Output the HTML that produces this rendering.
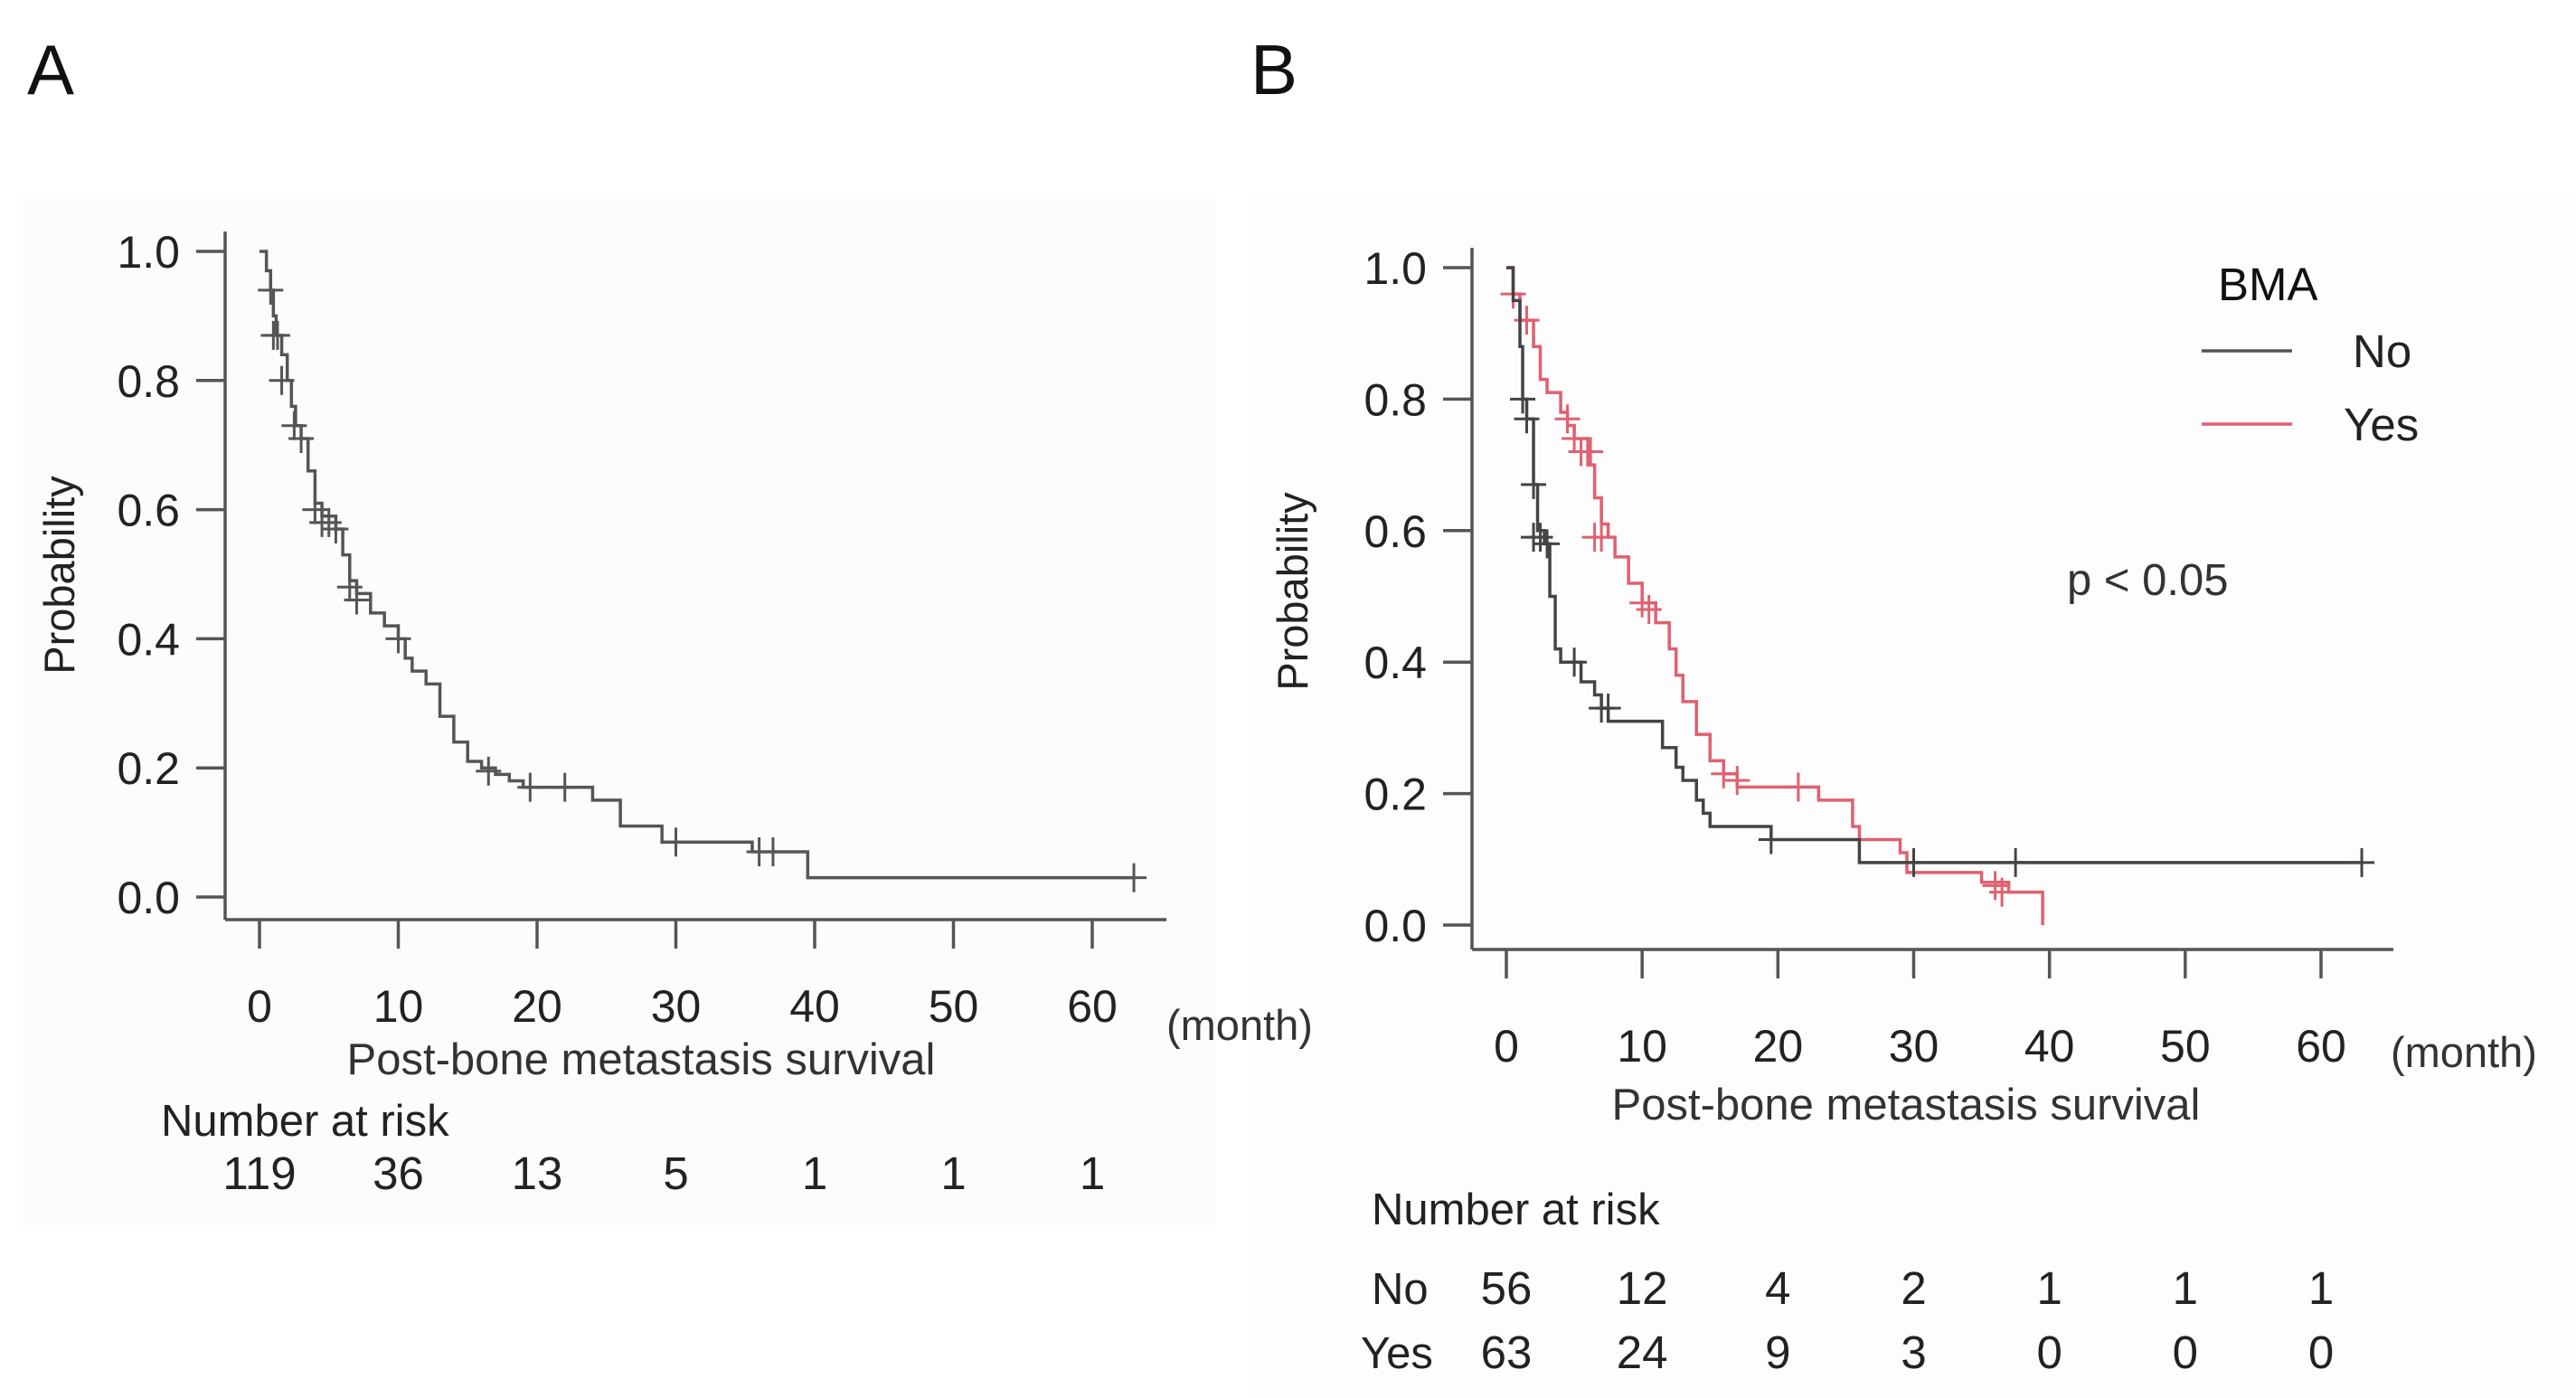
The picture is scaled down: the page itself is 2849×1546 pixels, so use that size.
<!DOCTYPE html>
<html><head><meta charset="utf-8"><style>
html,body{margin:0;padding:0;background:#fff;}
svg{display:block;font-family:"Liberation Sans",Arial,sans-serif;}
</style></head><body>
<svg id="s" width="2849" height="1546" viewBox="0 0 2849 1546" xmlns="http://www.w3.org/2000/svg">
<rect x="25" y="215" width="1320" height="1145" fill="#fcfcfc"/>
<rect x="1380" y="215" width="1469" height="1331" fill="#fdfdfd"/>
<text x="30" y="104" font-size="78" fill="#111">A</text>
<text x="1383" y="104" font-size="78" fill="#111">B</text>
<g id="A"></g>
<g id="B"></g>
</svg>
<script>
const xTicks=[0,10,20,30,40,50,60];
const yTicks=[0,0.2,0.4,0.6,0.8,1.0];
const allT=[0,0.5,0.8,1,1.2,1.6,2,2.3,2.6,3,3.5,4,4.5,5.5,6,6.5,7,8,9,10,10.5,11,12,13,14,15,16,17,18,19,24,26,29,35.5,39.5,63];
const allS=[1,0.97,0.94,0.9,0.87,0.84,0.8,0.76,0.73,0.71,0.66,0.61,0.59,0.57,0.53,0.49,0.47,0.44,0.42,0.40,0.37,0.35,0.33,0.28,0.24,0.21,0.20,0.19,0.18,0.17,0.15,0.11,0.085,0.07,0.03,0.03];
const allCensT=[0.8,1,1.3,1.6,2.5,3,4,4.5,5,5.5,6.5,7,10,16.5,19.5,22,30,36,37,63];
const allCensS=[0.94,0.87,0.87,0.80,0.73,0.71,0.60,0.58,0.58,0.57,0.48,0.46,0.40,0.195,0.17,0.17,0.085,0.07,0.07,0.03];
const allRisk=[119,36,13,5,1,1,1];
const noT=[0,0.5,1,1.2,1.5,2,2.3,2.8,3.2,3.6,4,5.5,6.5,7,7.5,11.5,12.5,13,14,14.5,15,19.5,26,63];
const noS=[1,0.95,0.88,0.80,0.77,0.67,0.6,0.58,0.5,0.42,0.40,0.37,0.35,0.33,0.31,0.27,0.24,0.22,0.19,0.17,0.15,0.13,0.095,0.095];
const noCensT=[1.2,1.5,2,2,2.5,3,5,7,7.5,19.5,30,37.5,63];
const noCensS=[0.80,0.77,0.67,0.59,0.59,0.58,0.40,0.33,0.33,0.13,0.095,0.095,0.095];
const yesT=[0,0.5,1,2,2.5,3,4,4.5,5,6,6.5,7,7.5,8,9,10,11,12,12.5,13,14,15,16,17,23,25.5,26,29,29.5,35,37,39.5];
const yesS=[1,0.96,0.92,0.88,0.83,0.81,0.78,0.76,0.74,0.70,0.65,0.61,0.59,0.56,0.52,0.49,0.46,0.42,0.38,0.34,0.29,0.25,0.23,0.21,0.19,0.15,0.13,0.11,0.08,0.065,0.05,0.0];
const yesCensT=[0.5,1.5,4.5,5,5.5,6.2,6.5,7,10,10.5,16,17,21.5,36,36.5];
const yesCensS=[0.96,0.92,0.77,0.74,0.72,0.72,0.59,0.59,0.49,0.48,0.23,0.22,0.21,0.06,0.05];
const noRisk=[56,12,4,2,1,1,1];
const yesRisk=[63,24,9,3,0,0,0];

const NS="http://www.w3.org/2000/svg";
function mk(p,tag,attrs,txt){const e=document.createElementNS(NS,tag);for(const k in attrs)e.setAttribute(k,attrs[k]);if(txt!==undefined)e.textContent=txt;p.appendChild(e);return e;}

function panel(g,cfg){
  const X=t=>cfg.x0+(cfg.x60-cfg.x0)*t/60;
  const Y=s=>cfg.y0+(cfg.y1-cfg.y0)*s;
  const ax=mk(g,'g',{});
  
  
  const yl=mk(ax,'line',{x1:cfg.left,x2:cfg.left,y1:Y(1)-22,y2:cfg.bottom,stroke:'#555','stroke-width':3.5});
  
  
  yTicks.forEach(v=>{
    const t=mk(ax,'line',{x1:cfg.left-32,x2:cfg.left,y1:Y(v),y2:Y(v),stroke:'#555','stroke-width':3.5});
    
    
    const l=mk(ax,'text',{x:cfg.left-50,y:Y(v)+18,'font-size':50,'text-anchor':'end',fill:'#222'},v.toFixed(1));
    
    
  });
  const xa=mk(g,'g',{});
  
  
  const xl=mk(xa,'line',{x1:cfg.left,x2:cfg.right,y1:cfg.bottom,y2:cfg.bottom,stroke:'#555','stroke-width':3.5});
  
  
  xTicks.forEach(v=>{
    const t=mk(xa,'line',{x1:X(v),x2:X(v),y1:cfg.bottom,y2:cfg.bottom+32,stroke:'#555','stroke-width':3.5});
    
    
    const l=mk(xa,'text',{x:X(v),y:cfg.tickY,'font-size':50,'text-anchor':'middle',fill:'#222'},v);
    
    
  });
  const yt=mk(g,'text',{x:0,y:0,'font-size':47,'text-anchor':'middle',fill:'#222',transform:`translate(${cfg.ylabX},${cfg.ylabY}) rotate(-90)`},'Probability');
  
  
  const xt=mk(g,'text',{x:cfg.xtX,y:cfg.xtY,'font-size':49,'text-anchor':'middle',fill:'#333'},'Post-bone metastasis survival');
  
  
  const mo=mk(g,'text',{x:cfg.monX,y:cfg.monY,'font-size':47,fill:'#333'},'(month)');
  
  
  return {X,Y};
}
function curve(g,X,Y,T,S,cT,cS,color,name){
  let d=`M${X(T[0])},${Y(S[0])}`;
  for(let i=1;i<T.length;i++){d+=`H${X(T[i])}V${Y(S[i])}`;}
  const p=mk(g,'path',{d:d,fill:'none',stroke:color,'stroke-width':3.5});
  
  
  cT.forEach((t,i)=>{
    const c=mk(g,'path',{d:`M${X(t)-14},${Y(cS[i])}h28M${X(t)},${Y(cS[i])-16}v32`,stroke:color,'stroke-width':3,fill:'none'});
    
    
  });
}
function riskRow(g,X,vals,y,name){
  vals.forEach((v,i)=>{
    const t=mk(g,'text',{x:X(xTicks[i]),y:y,'font-size':51,'text-anchor':'middle',fill:'#222'},v);
    
    
  });
}
// Panel A
const gA=document.getElementById('A');
const a=panel(gA,{x0:287,x60:1208,y1:278,y0:992,left:249,right:1290,bottom:1017,tickY:1130,ylabX:82,ylabY:636,xtX:709,xtY:1188,monX:1290,monY:1150});
curve(gA,a.X,a.Y,allT,allS,allCensT,allCensS,'#555','overall');
const nrA=mk(gA,'text',{x:178,y:1256,'font-size':49,fill:'#222'},'Number at risk');


riskRow(gA,a.X,allRisk,1315,'risk-count');
// Panel B
const gB=document.getElementById('B');
const b=panel(gB,{x0:1666,x60:2567,y1:296,y0:1023,left:1628,right:2647,bottom:1050,tickY:1174,ylabX:1446,ylabY:654,xtX:2108,xtY:1238,monX:2644,monY:1180});
curve(gB,b.X,b.Y,yesT,yesS,yesCensT,yesCensS,'#e06070','yes');
curve(gB,b.X,b.Y,noT,noS,noCensT,noCensS,'#444','no');
const lg=mk(gB,'g',{});


const lt=mk(lg,'text',{x:2453,y:332,'font-size':51,fill:'#111'},'BMA');


const l1=mk(lg,'line',{x1:2435,x2:2535,y1:388,y2:388,stroke:'#555','stroke-width':3.5});


const t1=mk(lg,'text',{x:2602,y:406,'font-size':51,fill:'#222'},'No');


const l2=mk(lg,'line',{x1:2435,x2:2535,y1:469,y2:469,stroke:'#e06070','stroke-width':3.5});


const t2=mk(lg,'text',{x:2592,y:487,'font-size':51,fill:'#222'},'Yes');


const pv=mk(gB,'text',{x:2286,y:658,'font-size':49,fill:'#333'},'p < 0.05');


const nrB=mk(gB,'text',{x:1517,y:1354,'font-size':49,fill:'#222'},'Number at risk');


const rn=mk(gB,'text',{x:1517,y:1442,'font-size':49,fill:'#222'},'No');


const ry=mk(gB,'text',{x:1505,y:1513,'font-size':49,fill:'#222'},'Yes');


riskRow(gB,b.X,noRisk,1442,'risk-count-no');
riskRow(gB,b.X,yesRisk,1513,'risk-count-yes');
</script>
</body></html>
